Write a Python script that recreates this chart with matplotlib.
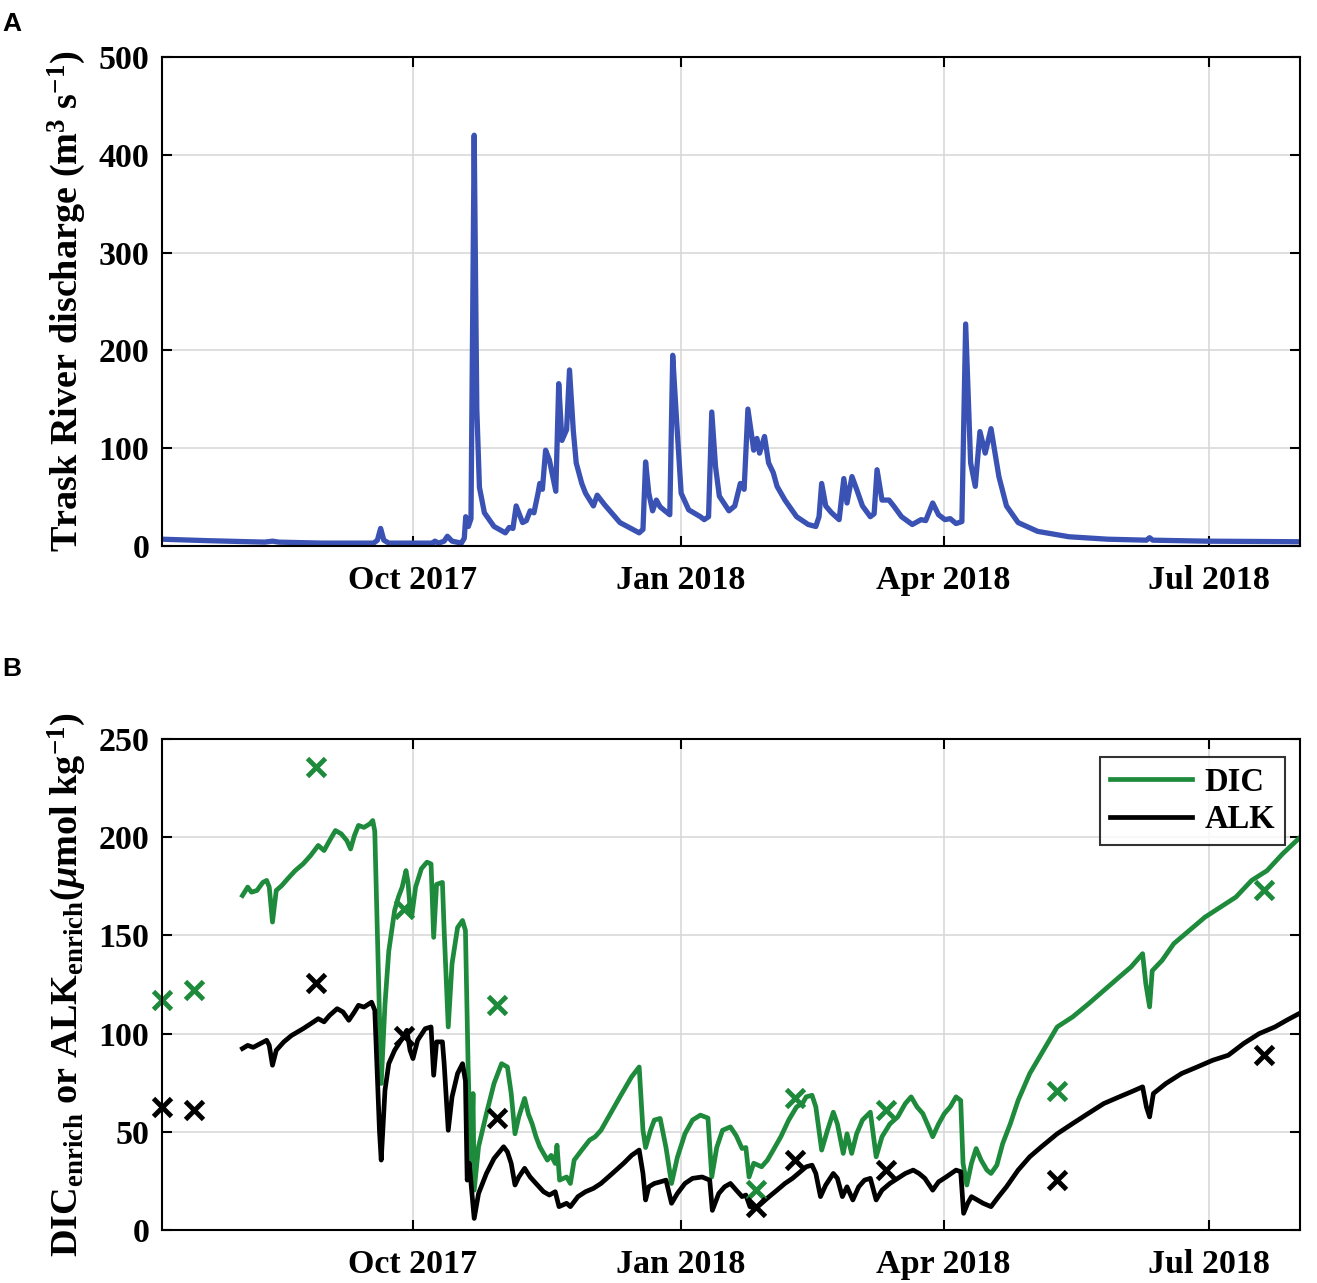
import numpy as np
import matplotlib
matplotlib.use("Agg")
import matplotlib.pyplot as plt
import matplotlib.dates as mdates

# time axis is "days since 1 Oct 2017"
BASE = "2017-10-01"

# --- panel A: Trask River discharge (m3/s)
dis_day = [-86.2, -70.5, -50.9, -48.2, -46.0, -31.2, -13.5, -12.2, -11.1, -10.0, -8.3,
           6.8, 7.5, 8.8, 10.7, 11.8, 13.4, 16.6, 17.6, 18.1, 19.0, 19.9, 21.0, 21.9, 22.8,
           24.5, 27.8, 31.7, 33.0, 34.3, 35.4, 37.6, 38.9, 40.2, 41.5, 42.9, 43.5, 44.4,
           45.5, 46.8, 49.0, 50.0, 51.1, 52.7, 53.7, 55.0, 56.0, 57.9, 59.2, 61.9, 63.2,
           65.8, 71.0, 77.6, 78.9, 79.8, 80.9, 82.2, 83.5, 84.8, 88.1, 89.1, 90.4, 92.0,
           94.6, 98.6, 99.9, 101.4, 102.5, 103.8, 105.1, 108.4, 110.4, 112.3, 113.6, 114.9,
           116.9, 118.0, 118.9, 120.6, 122.0, 123.6, 124.9, 127.6, 131.6, 135.6, 138.2,
           139.3, 140.2, 141.6, 143.6, 146.2, 147.8, 148.9, 150.6, 152.2, 154.2, 156.9,
           158.2, 159.2, 160.9, 163.3, 164.9, 167.6, 171.3, 174.3, 175.9, 178.3, 180.3,
           182.5, 184.3, 186.3, 188.3, 189.6, 191.3, 192.9, 194.5, 196.3, 198.3, 201.0,
           203.6, 207.6, 214.3, 225.0, 238.3, 251.6, 252.7, 253.8, 271.7, 304.0]
dis_val = [7, 5.5, 4, 5, 4, 3, 3, 6, 18, 6, 3,
           3, 5, 3, 5, 10, 5, 3, 8, 30, 20, 28, 420, 140, 60,
           34, 20, 13.5, 19, 18, 41, 24, 26, 36, 34, 54, 64, 58,
           98, 88, 56, 166, 108, 119, 180, 118, 85, 64, 54, 41, 52,
           42, 24, 13.5, 17, 86, 54, 36, 47, 40, 32, 195, 130, 54,
           37, 30, 27, 30, 137, 81, 51, 36, 41, 64, 58, 140,
           98, 110, 95, 112, 85, 75, 61, 47, 30, 22, 20,
           30, 64, 41, 34, 27, 69, 44, 71, 58, 41, 30,
           33, 78, 47, 47, 41, 30, 22, 27, 26, 44, 32,
           27, 28, 23, 25, 227, 85, 61, 117, 95, 120, 71,
           41, 24, 15, 9.5, 7, 6, 8.5, 6, 5, 4.4]

# --- panel B: DIC_enrich model curve (umol/kg)
dic_day = [-58.5, -56.7, -55.4, -53.5, -51.5, -50.2, -49.3, -48.2, -46.9, -45.0, -43.0,
           -40.4, -37.7, -35.1, -32.5, -30.5, -28.6, -26.6, -24.6, -22.7, -21.4, -20.1,
           -18.7, -16.8, -14.8, -13.8, -13.1, -10.9, -9.6, -8.3, -6.3, -5.0, -3.7, -2.4,
           -1.7, -1.0, -0.4, 0.9, 2.9, 4.8, 6.2, 7.1, 8.1, 10.1, 10.7, 12.1, 13.4, 15.3,
           17.0, 18.0, 18.9, 19.9, 20.6, 21.0, 22.5, 25.2, 27.8, 30.4, 32.4, 33.7, 35.0,
           36.3, 38.3, 39.6, 40.9, 42.2, 43.5, 44.8, 46.1, 47.4, 48.8, 49.4, 50.3, 52.7,
           54.0, 55.3, 57.9, 60.6, 62.5, 64.5, 67.1, 71.0, 75.0, 77.6, 78.9, 79.8, 81.5,
           82.8, 84.8, 86.8, 88.7, 90.7, 93.3, 95.9, 98.6, 101.2, 102.5, 104.2, 106.2,
           108.9, 110.9, 112.9, 114.2, 115.3, 116.9, 119.6, 121.6, 123.6, 126.2, 128.9,
           131.6, 133.6, 134.9, 136.9, 138.2, 140.2, 142.2, 144.2, 145.6, 147.6, 148.9,
           150.5, 152.2, 154.2, 156.9, 158.9, 160.9, 163.6, 166.3, 168.9, 170.9, 172.9,
           174.9, 176.9, 178.3, 180.3, 182.3, 184.3, 186.3, 187.9, 188.7, 190.0, 191.6,
           193.2, 194.9, 196.9, 198.3, 200.3, 202.3, 204.9, 207.6, 211.6, 215.6, 221.0,
           226.3, 231.6, 237.0, 242.3, 246.3, 250.3, 251.4, 252.7, 253.6, 257.0, 261.0,
           266.3, 271.7, 277.0, 282.3, 287.7, 293.0, 298.3, 304.0]
dic_val = [170.3, 174.6, 172, 172.9, 177, 178, 174.6, 156.8, 172.9, 175.4, 178.8,
           183, 186.4, 190.7, 195.8, 193.2, 198.3, 203.4, 201.7, 198.3, 194, 200.8,
           206, 205, 206.8, 208.5, 203, 74.6, 115, 142, 162.7, 169.5, 174.6, 183,
           177, 164, 160, 174.6, 184, 187.3, 186.4, 149, 176, 177, 152.5, 103.4, 135.6, 154,
           157.6, 152.5, 84.7, 28.8, 69.5, 20.3, 42.4, 59.3, 74.6, 84.7, 83, 69.5, 49,
           57.6, 67, 59, 54, 47.5, 42.4, 39, 35.6, 38, 33.9, 43.2, 25.4, 27,
           23.7, 35.6, 40.7, 45.8, 47.5, 50.8, 57.6, 67.8, 78, 83, 50.8, 42, 50.8,
           56, 56.8, 42, 23.7, 37, 49, 56, 58.5, 57, 27, 42, 50.8,
           52.5, 48, 41.5, 42, 27, 34, 32.2, 35.6, 40.7, 47.5, 56,
           62.7, 64.4, 67.8, 68.6, 62.7, 40.7, 50.8, 60, 54, 39, 49,
           39, 49, 56, 60, 37.3, 47.5, 54, 57.6, 64.4, 67.8, 62.7,
           59.3, 52.5, 47.5, 54, 59.3, 62.7, 67.8, 66, 34, 22.9, 34,
           41.5, 35.6, 30.5, 28.8, 33, 44, 54, 66, 79.7, 89.8, 103.4,
           108.5, 115, 122, 128.8, 133.9, 140.7, 125.4, 113.6, 132, 137.3, 145.8,
           152.5, 159.3, 164.4, 169.5, 178, 183, 191.5, 199.5]

# --- panel B: ALK_enrich model curve (umol/kg)
alk_day = [-58.5, -56.7, -54.8, -52.2, -50.2, -49.3, -48.2, -46.9, -44.3, -41.7, -37.7,
           -35.1, -32.5, -30.5, -28.6, -26.0, -24.0, -22.0, -20.1, -18.7, -16.8, -14.2,
           -13.1, -11.5, -10.9, -9.6, -8.3, -6.3, -3.7, -2.1, -1.0, 0.0, 1.6, 4.2, 6.2,
           7.1, 8.1, 10.1, 10.7, 12.1, 13.4, 15.3, 17.0, 18.0, 18.6, 19.3, 21.0, 22.5,
           25.2, 27.8, 31.1, 32.4, 33.7, 35.0, 36.3, 38.3, 40.2, 42.2, 44.8, 46.8, 48.8,
           50.1, 52.7, 54.0, 56.6, 59.2, 61.9, 64.5, 68.4, 72.3, 75.0, 77.6, 78.9, 79.8,
           80.9, 82.8, 84.8, 86.8, 88.7, 90.7, 93.3, 95.9, 99.2, 101.8, 102.7, 104.9,
           106.9, 108.9, 110.9, 112.9, 114.2, 115.6, 117.6, 119.6, 122.2, 124.9, 127.6,
           130.2, 132.9, 134.9, 136.9, 138.2, 139.8, 141.6, 144.2, 145.6, 147.3, 148.9,
           150.9, 152.9, 154.9, 156.9, 158.9, 160.9, 163.6, 166.3, 168.9, 171.6, 173.6,
           175.6, 178.3, 180.3, 182.9, 186.3, 187.9, 188.9, 190.3, 191.6, 193.6, 195.6,
           198.3, 200.9, 203.6, 207.6, 211.6, 215.6, 221.0, 226.3, 231.6, 237.0, 242.3,
           246.3, 250.3, 251.6, 252.7, 254.0, 258.3, 263.7, 269.0, 274.3, 279.7, 285.0,
           290.3, 295.7, 299.7, 304.0]
alk_val = [92.4, 94, 93, 95, 96.6, 94, 83.9, 91.5, 95.8, 99, 102.5,
           105, 107.6, 106, 109.3, 112.7, 111, 106.8, 111, 114.4, 113.5, 116,
           111.9, 50.8, 35.6, 71.2, 84.7, 91.5, 97.5, 101.7, 91.5, 87.3, 96.6, 102.5, 103.4,
           78.8, 95.8, 95.8, 84.7, 50.8, 67.8, 79.7, 84.7, 76, 25.4, 34, 5.9, 18.6,
           28.8, 36.4, 42.4, 39.8, 33.9, 22.9, 27, 31.4, 27, 23.7, 19.5, 17.8, 19.5,
           11.9, 13.6, 11.9, 17, 19.5, 21.2, 23.7, 28.8, 34, 38, 40.7, 28.8, 15.3,
           22, 23.7, 24.5, 25.4, 13.6, 18.6, 23.7, 26.3, 27, 25.4, 10, 18.6,
           22, 23.7, 20.3, 17, 17.8, 11.9, 11, 13.6, 17, 20.3, 23.7,
           26.3, 29.7, 32.2, 33, 28.8, 17, 22.9, 28.8, 26.3, 17, 22,
           15.3, 22, 25.4, 26.3, 15.3, 20.3, 23.7, 26.3, 28.8, 30.5, 28.8,
           26.3, 20.3, 24.5, 27, 30.5, 29.7, 8.5, 13.6, 17, 15.3, 13.6,
           11.9, 17, 22, 30.5, 37.3, 42.4, 49, 54.2, 59.3, 64.4, 67.8,
           70.3, 72.9, 62.7, 57.6, 69.5, 74.6, 79.7, 83, 86.4, 89, 95,
           100, 103.4, 106.8, 110.2]

# --- panel B: bottle samples (x markers)
samp_day = [-86.0, -75.1, -33.2, -3.0, 28.8, 117.6, 130.9, 162.3, 221.0, 292.0]
samp_dic = [117, 122, 235.6, 163.6, 114.4, 20.3, 67, 61, 71, 172.9]
samp_alk = [62.7, 61, 126, 99, 56.8, 11.9, 35.6, 30.5, 25.4, 89]

tick_dates = ["2017-10-01", "2018-01-01", "2018-04-01", "2018-07-01"]

BLUE = "#3a52b3"
GREEN = "#1e8a3b"

plt.rcParams["font.family"] = ["Liberation Serif", "DejaVu Serif"]
plt.rcParams["font.weight"] = "bold"
plt.rcParams["axes.labelweight"] = "bold"
plt.rcParams["mathtext.fontset"] = "custom"
plt.rcParams["mathtext.rm"] = "Liberation Serif:bold"
plt.rcParams["mathtext.bf"] = "Liberation Serif:bold"
plt.rcParams["mathtext.it"] = "Liberation Serif:italic:bold"


def to_num(days):
    return mdates.datestr2num(BASE) + np.asarray(days, dtype=float)


def style_axes(ax):
    ax.set_xlim(to_num([-86.1, 304.3]))
    ax.set_xticks(mdates.datestr2num(tick_dates))
    ax.xaxis.set_major_formatter(mdates.DateFormatter("%b %Y"))
    ax.grid(True, color="#d6d6d6", linewidth=1.1)
    ax.set_axisbelow(True)
    ax.tick_params(direction="in", length=7, width=1.5, top=True, right=True,
                   labelsize=24.5)
    ax.tick_params(axis="x", pad=14)
    ax.tick_params(axis="y", pad=9)
    for lab in ax.get_xticklabels() + ax.get_yticklabels():
        lab.set_fontweight("bold")
    for s in ax.spines.values():
        s.set_linewidth(1.5)


fig = plt.figure(figsize=(13.17, 12.83), dpi=100)
axA = fig.add_axes([0.1230, 0.5744, 0.8641, 0.3812])
axB = fig.add_axes([0.1230, 0.0413, 0.8641, 0.3827])

# panel A
axA.plot(to_num(dis_day), dis_val, color=BLUE, linewidth=3.8, solid_joinstyle="round")
axA.set_ylim(0, 500)
axA.set_yticks(range(0, 501, 100))
style_axes(axA)
axA.set_ylabel(r"Trask River discharge (m$^{3}$ s$^{-1}$)", fontsize=27.5,
               fontweight="bold", labelpad=8)

# panel B
axB.plot(to_num(dic_day), dic_val, color=GREEN, linewidth=3.4, label="DIC")
axB.plot(to_num(alk_day), alk_val, color="black", linewidth=3.4, label="ALK")
axB.plot(to_num(samp_day), samp_dic, linestyle="none", marker="x", markersize=13,
         markeredgewidth=3.5, color=GREEN, clip_on=False)
axB.plot(to_num(samp_day), samp_alk, linestyle="none", marker="x", markersize=13,
         markeredgewidth=3.5, color="black", clip_on=False)
axB.set_ylim(0, 250)
axB.set_yticks(range(0, 251, 50))
style_axes(axB)
axB.set_ylabel(r"DIC$_{\mathrm{enrich}}$ or ALK$_{\mathrm{enrich}}$($\mu$mol kg$^{-1}$)",
               fontsize=27.5, fontweight="bold", labelpad=8)
leg = axB.legend(loc="upper right", bbox_to_anchor=(0.9868, 0.9633), fontsize=23.5,
                 frameon=True, fancybox=False, edgecolor="black", handlelength=2.5,
                 borderaxespad=0, borderpad=0.3, labelspacing=0.2, handletextpad=0.4)
leg.get_frame().set_linewidth(1.5)

fig.text(0.0015, 0.991, "A", family="Liberation Sans", fontweight="bold", fontsize=19,
         va="top", ha="left")
fig.text(0.0015, 0.488, "B", family="Liberation Sans", fontweight="bold", fontsize=19,
         va="top", ha="left")

fig.savefig("out.png", dpi=100)
